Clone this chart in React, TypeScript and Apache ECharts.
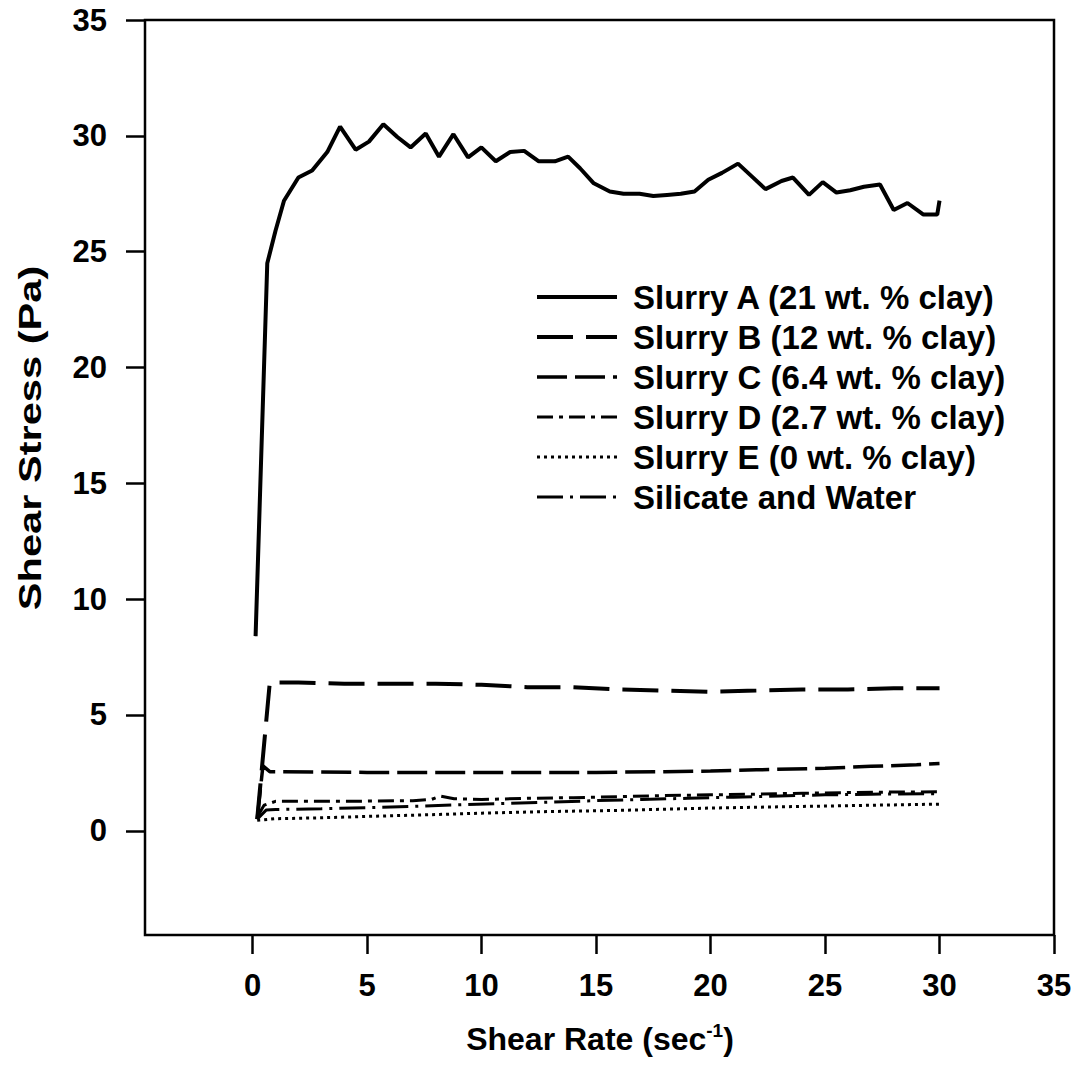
import React, { useEffect, useRef } from "react";
import * as echarts from "echarts";

const FONT = "'Liberation Sans', Arial, Helvetica, sans-serif";

const xTicks = [0, 5, 10, 15, 20, 25, 30, 35];
const yTicks = [0, 5, 10, 15, 20, 25, 30, 35];

const seriesNames = [
  "Slurry A (21 wt. % clay)",
  "Slurry B (12 wt. % clay)",
  "Slurry C (6.4 wt. % clay)",
  "Slurry D (2.7 wt. % clay)",
  "Slurry E (0 wt. % clay)",
  "Silicate and Water",
];

const slurryA = [
  [0.13, 8.4], [0.64, 24.5], [1.0, 25.9], [1.37, 27.2], [2.0, 28.2], [2.6, 28.5],
  [3.26, 29.3], [3.82, 30.4], [4.5, 29.4], [5.08, 29.75], [5.71, 30.5], [6.32, 29.95],
  [6.9, 29.5], [7.56, 30.1], [8.14, 29.1], [8.77, 30.07], [9.41, 29.07], [9.99, 29.5],
  [10.62, 28.9], [11.25, 29.3], [11.86, 29.35], [12.5, 28.9], [13.2, 28.9], [13.78, 29.1],
  [14.3, 28.6], [14.9, 27.95], [15.6, 27.6], [16.2, 27.5], [16.9, 27.5], [17.5, 27.4],
  [18.1, 27.45], [18.7, 27.5], [19.3, 27.6], [19.9, 28.1], [20.5, 28.4], [21.2, 28.8],
  [21.8, 28.25], [22.4, 27.7], [23.1, 28.05], [23.6, 28.2], [24.3, 27.45], [24.9, 28.0],
  [25.5, 27.55], [26.1, 27.65], [26.7, 27.8], [27.4, 27.9], [28.0, 26.8], [28.6, 27.1],
  [29.3, 26.6], [29.9, 26.6], [30.0, 27.2],
];

const slurryB = [
  [0.2, 0.5], [0.75, 6.4], [2, 6.4], [4, 6.35], [6, 6.35], [8, 6.35], [10, 6.3],
  [12, 6.2], [14, 6.2], [16, 6.1], [18, 6.05], [20, 6.0], [22, 6.05], [24, 6.1],
  [26, 6.1], [28, 6.15], [30, 6.15],
];

const slurryC = [
  [0.2, 0.5], [0.45, 2.8], [0.75, 2.55], [5, 2.52], [10, 2.52], [15, 2.52], [18, 2.55],
  [20, 2.58], [22, 2.63], [25, 2.7], [27, 2.78], [29, 2.85], [30, 2.9],
];

const slurryD = [
  [0.2, 0.6], [0.5, 1.1], [1, 1.27], [3, 1.27], [5, 1.28], [7, 1.3], [7.8, 1.35],
  [8.2, 1.5], [8.8, 1.38], [10, 1.35], [12, 1.4], [14, 1.43], [16, 1.47], [18, 1.52],
  [20, 1.55], [22, 1.58], [24, 1.62], [26, 1.65], [28, 1.67], [30, 1.68],
];

const slurryE = [
  [0.2, 0.45], [1, 0.52], [3, 0.56], [5, 0.62], [8, 0.7], [10, 0.76], [13, 0.83],
  [16, 0.88], [20, 0.98], [24, 1.05], [27, 1.1], [30, 1.15],
];

const silicate = [
  [0.2, 0.5], [0.6, 0.9], [1, 0.92], [3, 0.95], [5, 1.0], [7, 1.05], [9, 1.12],
  [11, 1.18], [13, 1.24], [15, 1.3], [17, 1.35], [19, 1.4], [21, 1.45], [23, 1.5],
  [25, 1.55], [27, 1.58], [30, 1.6],
];

const seriesData = [slurryA, slurryB, slurryC, slurryD, slurryE, silicate];
const seriesDash: any[] = ["solid", [36, 13], [30, 8], [16, 6, 4, 6], [3, 4], [26, 7, 3, 7]];
const seriesWidth = [4, 4, 3.5, 3, 3, 3];

export default function App() {
  const ref = useRef<HTMLDivElement>(null);
  useEffect(() => {
    if (!ref.current) return;
    const chart = echarts.init(ref.current, undefined, { renderer: "svg" });
    const option: any = {
      animation: false,
      backgroundColor: "#fff",
      grid: {
        left: 145,
        top: 20,
        width: 909,
        height: 915,
        show: true,
        borderColor: "#000",
        borderWidth: 2.5,
        backgroundColor: "transparent",
      },
      xAxis: {
        type: "value",
        min: -4.7,
        max: 35,
        position: "bottom",
        axisLine: { show: false, onZero: false },
        splitLine: { show: false },
        axisTick: {
          show: true,
          inside: false,
          length: 19,
          lineStyle: { color: "#000", width: 2.5 },
          customValues: xTicks,
        },
        axisLabel: {
          customValues: xTicks,
          margin: 35,
          color: "#000",
          fontFamily: FONT,
          fontWeight: "bold",
          fontSize: 31,
        },
      },
      yAxis: {
        type: "value",
        min: -4.5,
        max: 35,
        position: "left",
        axisLine: { show: false, onZero: false },
        splitLine: { show: false },
        axisTick: {
          show: true,
          inside: false,
          length: 19,
          lineStyle: { color: "#000", width: 2.5 },
          customValues: yTicks,
        },
        axisLabel: {
          customValues: yTicks,
          margin: 38,
          color: "#000",
          fontFamily: FONT,
          fontWeight: "bold",
          fontSize: 31,
        },
      },
      legend: {
        orient: "vertical",
        left: 530,
        top: 272,
        itemWidth: 80,
        itemHeight: 14,
        itemGap: 0,
        selectedMode: false,
        data: seriesNames,
        itemStyle: { opacity: 0, borderWidth: 0 },
        lineStyle: { width: "inherit" },
        textStyle: {
          color: "#000",
          fontFamily: FONT,
          fontWeight: "bold",
          fontSize: 33,
          lineHeight: 40,
          padding: [0, 0, 0, 11],
        },
      },
      graphic: [
        {
          type: "text",
          x: 30,
          y: 438,
          rotation: Math.PI / 2,
          scaleX: 1.3,
          style: {
            text: "Shear Stress (Pa)",
            font: `bold 32px ${FONT}`,
            fill: "#000",
            textAlign: "center",
            textVerticalAlign: "middle",
          },
        },
        {
          type: "text",
          x: 600,
          y: 1038,
          style: {
            text: "{a|Shear Rate (sec}{s|-1}{a|)}",
            textAlign: "center",
            textVerticalAlign: "middle",
            rich: {
              a: { font: `bold 32px ${FONT}`, fill: "#000", lineHeight: 34, verticalAlign: "bottom" },
              s: { font: `bold 19px ${FONT}`, fill: "#000", lineHeight: 34, verticalAlign: "top" },
            },
          },
        },
      ],
      series: seriesNames.map((name, i) => ({
        name,
        type: "line",
        data: seriesData[i],
        symbol: "none",
        showSymbol: false,
        smooth: false,
        lineStyle: { color: "#000", width: seriesWidth[i], type: seriesDash[i] },
        itemStyle: { color: "#000" },
        z: 10 - i,
      })),
    };
    chart.setOption(option);
    return () => chart.dispose();
  }, []);
  return <div ref={ref} style={{ width: 1079, height: 1073, margin: -8 }} />;
}
